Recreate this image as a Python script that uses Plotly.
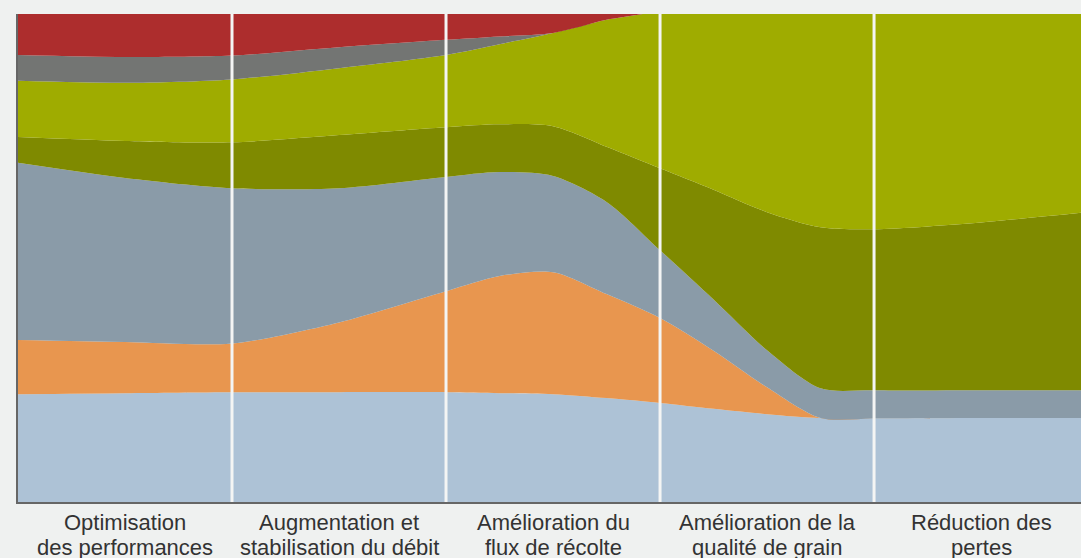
import plotly.graph_objects as go

# positions along the x axis (category units; category i spans [i, i+1])
x_pos = [0, 0.5, 1, 1.5, 2, 2.25, 2.5, 2.75, 3, 3.25, 3.5, 3.75, 4, 4.5, 5]

cat_line1 = ["Optimisation", "Augmentation et", "Amélioration du",
             "Amélioration de la", "Réduction des"]
cat_line2 = ["des performances", "stabilisation du débit", "flux de récolte",
             "qualité de grain", "pertes"]
category_centers = [0.5, 1.5, 2.5, 3.5, 4.5]
boundaries = [1, 2, 3, 4]

# stacked layer thicknesses (bottom to top)
light_blue = [22.1, 22.3, 22.5, 22.5, 22.5, 22.3, 22.1, 21.3, 20.3, 19.1, 18.0, 17.2, 17.1, 17.2, 17.2]
orange     = [11.1, 10.5, 10.0, 14.3, 20.7, 24.0, 25.0, 21.3, 17.4, 11.9, 5.5, 0, 0, 0, 0]
slate      = [36.3, 33.6, 31.8, 27.5, 23.4, 21.3, 19.7, 18.9, 13.9, 10.5, 7.6, 6.1, 5.8, 5.7, 5.7]
olive      = [5.3, 7.6, 9.4, 10.9, 10.2, 9.8, 10.2, 11.3, 16.8, 22.5, 28.3, 33.0, 33.0, 34.4, 36.5]
lime       = [11.5, 11.9, 12.9, 13.7, 14.8, 16.4, 19.1, 26.0, 32.4, 42.0, 48.6, 51.6, 52.1, 50.6, 48.6]
gray       = [5.3, 5.3, 4.9, 4.3, 3.1, 1.6, 0, 0, 0, 0, 0, 0, 0, 0, 0]
red        = [16.4, 16.8, 16.4, 14.8, 13.3, 12.5, 11.9, 9.2, 7.2, 2.1, 0, 0, 0, 0, 0]

layers = [
    (light_blue, "#adc2d6"),
    (orange, "#e8964f"),
    (slate, "#8a9ba8"),
    (olive, "#7f8a00"),
    (lime, "#9fac00"),
    (gray, "#737573"),
    (red, "#ad2d2d"),
]

fig = go.Figure()
for vals, col in layers:
    fig.add_trace(go.Scatter(
        x=x_pos, y=vals, mode="lines", stackgroup="one",
        line=dict(width=0, shape="spline", smoothing=0.8, color=col),
        fillcolor=col, hoverinfo="skip", showlegend=False,
    ))

for b in boundaries:
    fig.add_shape(type="line", xref="x", yref="paper", x0=b, x1=b, y0=0, y1=1,
                  line=dict(color="#f4f5f4", width=3), layer="above")

for cx, t1, t2 in zip(category_centers, cat_line1, cat_line2):
    fig.add_annotation(x=cx, y=0, xref="x", yref="paper", text=t1, showarrow=False,
                       xanchor="center", yanchor="top", yshift=-6)
    fig.add_annotation(x=cx, y=0, xref="x", yref="paper", text=t2, showarrow=False,
                       xanchor="center", yanchor="top", yshift=-31)

fig.update_layout(
    width=1081, height=558,
    margin=dict(l=18, r=0, t=14, b=56, autoexpand=False),
    paper_bgcolor="#eff1f0", plot_bgcolor="#eff1f0",
    font=dict(family="Liberation Sans, Arial, sans-serif", size=22, color="#333333"),
    showlegend=False,
)
fig.update_xaxes(range=[0, 4.967], showticklabels=False,
                 showgrid=False, zeroline=False, ticks="", showline=True,
                 linecolor="#666666", linewidth=2, fixedrange=True, automargin=False)
fig.update_yaxes(range=[0, 100], showgrid=False, zeroline=False, showticklabels=False,
                 ticks="", showline=True, linecolor="#666666", linewidth=2, fixedrange=True,
                 automargin=False)

fig.write_html("out.html", config={"displayModeBar": False},
               post_script="document.body.style.margin='0';document.body.style.overflow='hidden';")
